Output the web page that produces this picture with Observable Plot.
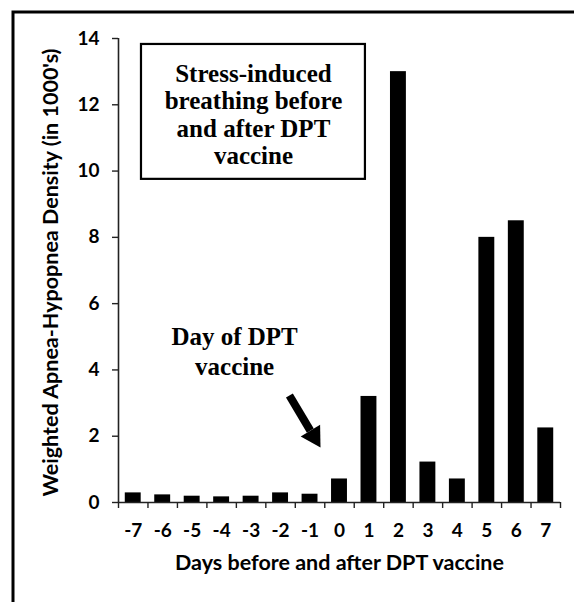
<!DOCTYPE html>
<html>
<head>
<meta charset="utf-8">
<script src="https://cdn.jsdelivr.net/npm/d3@7"></script>
<script src="https://cdn.jsdelivr.net/npm/@observablehq/plot@0.6"></script>
<style>
  html, body { margin: 0; padding: 0; background: #fff; }
  #chart svg { display: block; }
</style>
</head>
<body>
<div id="chart"></div>
<script>
// Data
const days = [-7, -6, -5, -4, -3, -2, -1, 0, 1, 2, 3, 4, 5, 6, 7];
const density = [0.29, 0.23, 0.19, 0.17, 0.19, 0.29, 0.25, 0.71, 3.2, 13.0, 1.22, 0.71, 8.0, 8.5, 2.25];
const yTicks = [0, 2, 4, 6, 8, 10, 12, 14];
const boundaries = [-7.5, -6.5, -5.5, -4.5, -3.5, -2.5, -1.5, -0.5, 0.5, 1.5, 2.5, 3.5, 4.5, 5.5, 6.5, 7.5];

const yLabel = "Weighted Apnea-Hypopnea Density (in 1000's)";
const xLabel = "Days before and after DPT vaccine";
const titleText = "Stress-induced\nbreathing before\nand after DPT\nvaccine";
const noteText = "Day of DPT\nvaccine";

// annotation anchors in data units
const titleBox = [{x1: -6.72, x2: 0.88, y1: 9.75, y2: 13.82}];
const titleAnchor = [{x: -2.92, y: 11.72}];
const noteAnchor = [{x: -3.56, y: 4.59}];
const arrowShaft = [{x1: -1.70, y1: 3.23, x2: -0.99, y2: 2.17}];
const arrowHead = [{x: -0.873, y: 2.0}];

const data = days.map((d, i) => ({day: d, value: density[i]}));
const barHalf = 0.27;

const axisFont = "Lato, 'Open Sans', sans-serif";
const serifFont = "'Liberation Serif', 'Times New Roman', serif";

const plot = Plot.plot({
  width: 574,
  height: 602,
  marginLeft: 118,
  marginRight: 14,
  marginTop: 38,
  marginBottom: 100,
  style: {fontFamily: axisFont, fontWeight: "bold", background: "#fff", color: "#000"},
  x: {domain: [-7.5, 7.5]},
  y: {domain: [0, 14]},
  marks: [
    Plot.rectY(data, {x1: d => d.day - barHalf, x2: d => d.day + barHalf, y: "value", fill: "#000"}),
    Plot.ruleY([0], {stroke: "#222", strokeWidth: 1.6}),
    Plot.ruleX([-7.5], {stroke: "#222", strokeWidth: 1.6}),
    Plot.axisY({ticks: yTicks, tickSize: 6, tickPadding: 13, fontSize: 19, fontWeight: "bold", label: null, stroke: "#222", strokeWidth: 1.4}),
    Plot.axisX({ticks: boundaries, tickSize: 6, text: null, label: null, stroke: "#222", strokeWidth: 1.4}),
    Plot.axisX({ticks: days, tickSize: 0, tickPadding: 21, fontSize: 19, fontWeight: "bold", label: null, tickFormat: d => d < 0 ? "-" + Math.abs(d) : String(d)}),
    Plot.text([xLabel], {frameAnchor: "bottom", dy: 61, text: d => d, fontSize: 21.5, fontWeight: "bold", lineAnchor: "middle", fill: "#000"}),
    Plot.text([yLabel], {frameAnchor: "left", dx: -67, dy: 2, rotate: -90, textAnchor: "middle", text: d => d, fontSize: 21.5, fontWeight: "bold", lineAnchor: "middle", fill: "#000"}),
    Plot.rect(titleBox, {x1: "x1", x2: "x2", y1: "y1", y2: "y2", fill: "#fff", stroke: "#000", strokeWidth: 2.2}),
    Plot.text(titleAnchor, {x: "x", y: "y", text: () => titleText, fontFamily: serifFont, fontSize: 25, fontWeight: "bold", lineHeight: 1.1, lineAnchor: "middle", fill: "#000"}),
    Plot.text(noteAnchor, {x: "x", y: "y", text: () => noteText, fontFamily: serifFont, fontSize: 25, fontWeight: "bold", lineHeight: 1.2, lineAnchor: "middle", fill: "#000"}),
    Plot.link(arrowShaft, {x1: "x1", y1: "y1", x2: "x2", y2: "y2", stroke: "#000", strokeWidth: 8}),
    Plot.dot(arrowHead, {x: "x", y: "y", symbol: "triangle", r: 8.4, rotate: 149, fill: "#000", stroke: "none"})
  ]
});

// outer frame (top and left edges visible)
d3.select(plot).append("rect")
  .attr("x", 13).attr("y", 12).attr("width", 700).attr("height", 700)
  .attr("fill", "none").attr("stroke", "#000").attr("stroke-width", 3);

document.getElementById("chart").appendChild(plot);
</script>
</body>
</html>
